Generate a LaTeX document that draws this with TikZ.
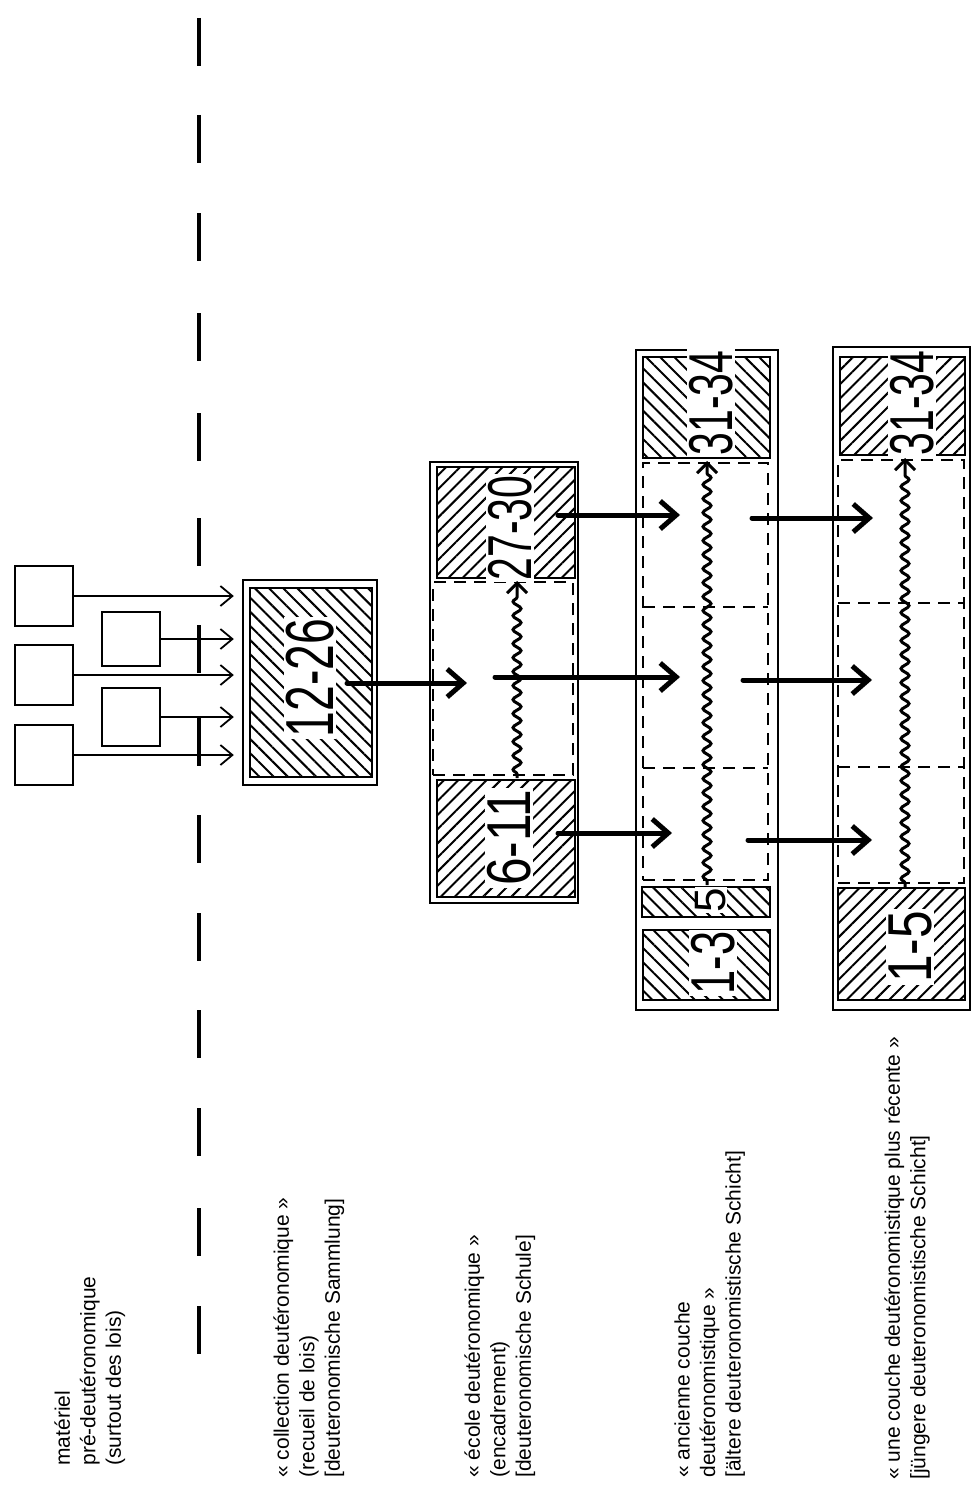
\documentclass[tikz,border=0pt]{standalone}
\usepackage{fontspec}
\setmainfont{Liberation Sans}
\usetikzlibrary{arrows.meta,patterns.meta,decorations.pathmorphing}

\begin{document}
\begin{tikzpicture}[x=0.5pt,y=-0.5pt,
	frame/.style={rectangle, draw, line width=1.2pt, inner sep=0pt},
	hatchl/.style={rectangle, draw, line width=1.4pt, inner sep=0pt, pattern={Lines[angle=45,distance=5pt,line width=1pt]}},
	hatchr/.style={rectangle, draw, line width=1.4pt, inner sep=0pt, pattern={Lines[angle=-45,distance=5pt,line width=1pt]}},
	dashbox/.style={rectangle, draw, line width=0.9pt, dash pattern=on 6pt off 4pt, inner sep=0pt},
	divider/.style={line width=0.9pt, dash pattern=on 6pt off 4pt},
	src/.style={rectangle, draw, line width=1.2pt, inner sep=0pt, minimum width=29pt},
	feed/.style={-{Straight Barb[length=6pt,width=10pt]}, line width=0.9pt, shorten >=4pt},
	push/.style={-{Straight Barb[length=8pt,width=14pt]}, line width=2.5pt, line cap=round},
	develop/.style={-{Straight Barb[length=5pt,width=10pt]}, line width=1.5pt, decorate, decoration={snake, amplitude=2pt, segment length=7pt, pre length=2pt, post length=6pt}},
	verses/.style={rotate=90, fill=white, inner sep=1pt, font=\fontsize{31}{31}\selectfont},
	legend/.style={rotate=90, anchor=north west, align=left, inner sep=0pt, font=\fontsize{10.5}{12.75}\selectfont}]
	\useasboundingbox (0,0) rectangle (972,1493);

	% the cut between older material and Dt
	\foreach \y in {18,115,213,313,413,518,625,718,815,913,1010,1108,1208,1306}
		\draw[line width=2pt] (199,\y) -- (199,\y+48);

	% pre-deuteronomic pieces
	\node[src, minimum height=30pt] (srcA1) at (44,596) {};
	\node[src, minimum height=30pt] (srcA2) at (44,675) {};
	\node[src, minimum height=30pt] (srcA3) at (44,755) {};
	\node[src, minimum height=27pt] (srcB1) at (131,639) {};
	\node[src, minimum height=29pt] (srcB2) at (131,717) {};

	% collection
	\node[frame, minimum width=67pt, minimum height=102.5pt] (coll) at (310,682.5) {};
	\node[hatchr, minimum width=61pt, minimum height=94.5pt] (collin) at (311,682.5) {};
	\node[verses, font=\fontsize{34}{34}\selectfont] (l1226) at (310,678) {\scalebox{.68}[1]{12-26}};

	% school
	\node[frame, minimum width=74pt, minimum height=220.5pt] (school) at (504,682.5) {};
	\node[hatchl, minimum width=69pt, minimum height=55.5pt] (sctop) at (506,522.5) {};
	\node[dashbox, minimum width=70pt, minimum height=96.5pt] (scmid) at (503,678.5) {};
	\node[hatchl, minimum width=69pt, minimum height=58.5pt] (scbot) at (506,838.5) {};
	\node[verses] (l2730) at (510,528) {\scalebox{.66}[1]{27-30}};
	\node[verses] (l611) at (509,838) {\scalebox{.8}[1]{6-11}};

	% older layer
	\node[frame, minimum width=71pt, minimum height=330pt] (old) at (707,680) {};
	\node[hatchr, minimum width=63.5pt, minimum height=50.5pt] (oldtop) at (706.5,407.5) {};
	\node[dashbox, minimum width=62.5pt, minimum height=208.5pt] (oldmid) at (705.5,671.5) {};
	\node[hatchr, minimum width=64pt, minimum height=15pt] (oldfive) at (706,902) {};
	\node[hatchr, minimum width=63.5pt, minimum height=35pt] (oldbot) at (706.5,965) {};
	\draw[divider] (643,607) -- (768,607);
	\draw[divider] (643,768) -- (768,768);
	\node[verses] (l3134a) at (711,403) {\scalebox{.66}[1]{31-34}};
	\node[verses, font=\fontsize{22}{22}\selectfont, inner sep=0.5pt] (l5) at (711,900) {5};
	\node[verses] (l13) at (713,963) {\scalebox{.7}[1]{1-3}};

	% younger layer
	\node[frame, minimum width=68.5pt, minimum height=331.5pt] (young) at (901.5,678.5) {};
	\node[hatchl, minimum width=62.5pt, minimum height=49pt] (ytop) at (902.5,406) {};
	\node[dashbox, minimum width=63pt, minimum height=211.5pt] (ymid) at (901,671.5) {};
	\node[hatchl, minimum width=63.5pt, minimum height=56pt] (ybot) at (901.5,944) {};
	\draw[divider] (838,603) -- (964,603);
	\draw[divider] (838,767) -- (964,767);
	\node[verses] (l3134b) at (912,403) {\scalebox{.66}[1]{31-34}};
	\node[verses] (l15) at (910,947) {\scalebox{.8}[1]{1-5}};

	% ends of the thick arrows
	\coordinate (c0) at (347,683);  \coordinate (s0) at (467,683);
	\coordinate (c1) at (558,515);  \coordinate (o1) at (680,515);
	\coordinate (c2) at (495,677);  \coordinate (o2) at (680,677);
	\coordinate (c3) at (558,833);  \coordinate (o3) at (672,833);
	\coordinate (d1) at (752,518);  \coordinate (y1) at (873,518);
	\coordinate (d2) at (743,680);  \coordinate (y2) at (872,680);
	\coordinate (d3) at (748,840);  \coordinate (y3) at (872,840);
	% growth lines
	\coordinate (w1a) at (517,778); \coordinate (w1b) at (517,581);
	\coordinate (w2a) at (707,885); \coordinate (w2b) at (707,461);
	\coordinate (w3a) at (905,887); \coordinate (w3b) at (905,458);

	\path
		(srcA1.east) edge[feed] (srcA1.east -| coll.west)
		(srcB1.east) edge[feed] (srcB1.east -| coll.west)
		(srcA2.east) edge[feed] (srcA2.east -| coll.west)
		(srcB2.east) edge[feed] (srcB2.east -| coll.west)
		(srcA3.east) edge[feed] (srcA3.east -| coll.west)
		(w1a) edge[develop] (w1b)
		(w2a) edge[develop] (w2b)
		(w3a) edge[develop] (w3b)
		(c0) edge[push] (s0)
		(c1) edge[push] (o1)
		(c2) edge[push] (o2)
		(c3) edge[push] (o3)
		(d1) edge[push] (y1)
		(d2) edge[push] (y2)
		(d3) edge[push] (y3)
	;

	% captions
	\node[legend] (cap1) at (54,1466) {matériel\\pré-deutéronomique\\(surtout des lois)};
	\node[legend] (cap2) at (273,1478) {« collection deutéronomique »\\(recueil de lois)\\{}[deuteronomische Sammlung]};
	\node[legend] (cap3) at (464,1478) {« école deutéronomique »\\(encadrement)\\{}[deuteronomische Schule]};
	\node[legend] (cap4) at (674,1478) {« ancienne couche\\deutéronomistique »\\{}[ältere deuteronomistische Schicht]};
	\node[legend] (cap5) at (884,1480) {« une couche deutéronomistique plus récente »\\{}[jüngere deuteronomistische Schicht]};
\end{tikzpicture}
\end{document}
